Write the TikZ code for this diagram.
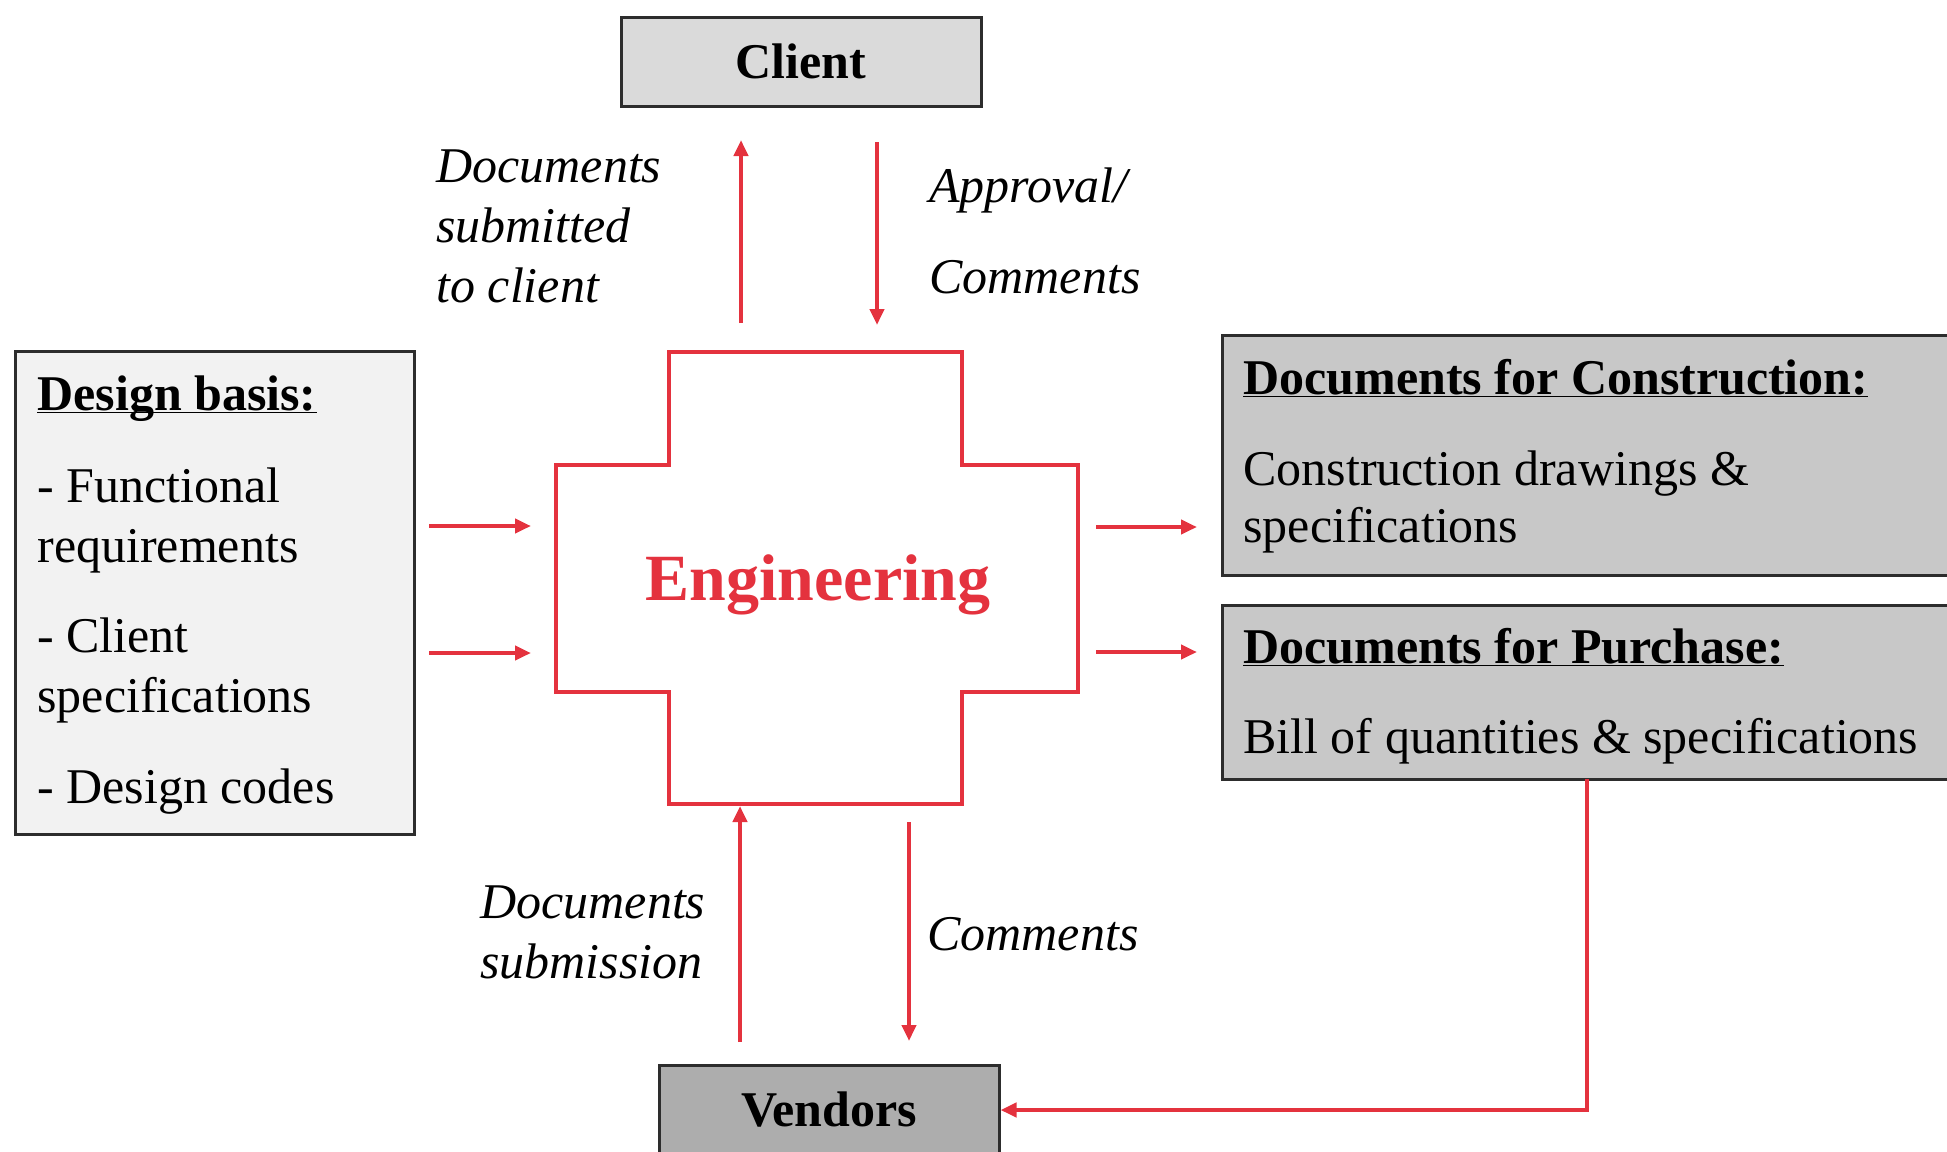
\documentclass[tikz,border=0pt]{standalone}
\usepackage{fontspec}
\setmainfont{Liberation Serif}
\usetikzlibrary{arrows.meta}
\definecolor{engred}{RGB}{228,50,62}
\definecolor{boxline}{RGB}{45,45,45}
\definecolor{clientfill}{RGB}{218,218,218}
\definecolor{basisfill}{RGB}{242,242,242}
\definecolor{docfill}{RGB}{200,200,200}
\definecolor{vendfill}{RGB}{173,173,173}
\newcommand{\myul}[1]{\underline{\smash{#1}}}
\tikzset{
  box/.style={draw=boxline, line width=1.5pt, rectangle, inner sep=0pt},
  txt/.style={anchor=base west, inner sep=0pt, font=\fontsize{25}{30}\selectfont},
  itxt/.style={txt, font=\fontsize{25}{30}\selectfont\itshape},
  btxt/.style={txt, font=\fontsize{25}{30}\selectfont\bfseries},
  arr/.style={draw=engred, line width=2pt, -{Triangle[length=8pt,width=7pt]}},
}
\begin{document}
\begin{tikzpicture}[x=0.5pt,y=-0.5pt]
\useasboundingbox (0,0) rectangle (1947,1151);
\clip (0,0) rectangle (1947,1151);
% boxes
\node[box, fill=clientfill, minimum width=360*0.5pt, minimum height=89*0.5pt,
      font=\fontsize{25}{30}\selectfont\bfseries] (client) at (801,61.5) {Client};
\node[box, fill=basisfill, minimum width=399*0.5pt, minimum height=483*0.5pt] (basis) at (214.5,592.5) {};
\node[box, fill=docfill, minimum width=740*0.5pt, minimum height=240*0.5pt] (constr) at (1592,455) {};
\node[box, fill=docfill, minimum width=740*0.5pt, minimum height=174*0.5pt] (purch) at (1592,692) {};
\node[box, fill=vendfill, minimum width=340*0.5pt, minimum height=90*0.5pt,
      font=\fontsize{25}{30}\selectfont\bfseries] (vendors) at (829,1110) {Vendors};
% engineering cross
\draw[engred, line width=2pt] (669,352) -- (962,352) -- (962,465) -- (1078,465) -- (1078,692)
  -- (962,692) -- (962,804) -- (669,804) -- (669,692) -- (556,692) -- (556,465) -- (669,465) -- cycle;
\node[anchor=base, inner sep=0pt, text=engred, font=\fontsize{33}{36}\selectfont\bfseries] (eng) at (818,600) {Engineering};
% texts of left box
\node[btxt] (b0) at (37,410) {\myul{Design basis:}};
\node[txt] (b1) at (37,502) {- Functional};
\node[txt] (b2) at (37,562) {requirements};
\node[txt] (b3) at (37,652) {- Client};
\node[txt] (b4) at (37,712) {specifications};
\node[txt] (b5) at (37,803) {- Design codes};
% texts of right boxes
\node[btxt] (c0) at (1243,394) {\myul{Documents for Construction:}};
\node[txt] (c1) at (1243,485) {Construction drawings \&};
\node[txt] (c2) at (1243,542) {specifications};
\node[btxt] (p0) at (1243,663) {\myul{Documents for Purchase:}};
\node[txt] (p1) at (1243,753) {Bill of quantities \& specifications};
% labels
\node[itxt] (l1) at (436,182) {Documents};
\node[itxt] (l2) at (436,242) {submitted};
\node[itxt] (l3) at (436,302) {to client};
\node[itxt] (l4) at (929,202) {Approval/};
\node[itxt] (l5) at (929,293) {Comments};
\node[itxt] (l6) at (480,918) {Documents};
\node[itxt] (l7) at (480,978) {submission};
\node[itxt] (l8) at (927,950) {Comments};
% connector end points
\coordinate (ua) at (741,323); \coordinate (ub) at (741,140);
\coordinate (da) at (877,142); \coordinate (db) at (877,325);
\coordinate (la1) at (429,526); \coordinate (lb1) at (531,526);
\coordinate (la2) at (429,653); \coordinate (lb2) at (531,653);
\coordinate (ra1) at (1096,527); \coordinate (rb1) at (1197,527);
\coordinate (ra2) at (1096,652); \coordinate (rb2) at (1197,652);
\coordinate (va) at (740,1042); \coordinate (vb) at (740,806);
\coordinate (wa) at (909,822); \coordinate (wb) at (909,1041);
\coordinate (pv) at (1587,779);
% connectors
\draw[arr] (ua) -- (ub);
\draw[arr] (da) -- (db);
\draw[arr] (la1) -- (lb1);
\draw[arr] (la2) -- (lb2);
\draw[arr] (ra1) -- (rb1);
\draw[arr] (ra2) -- (rb2);
\draw[arr] (va) -- (vb);
\draw[arr] (wa) -- (wb);
\draw[arr] (pv) |- (vendors.east);
\end{tikzpicture}
\end{document}
